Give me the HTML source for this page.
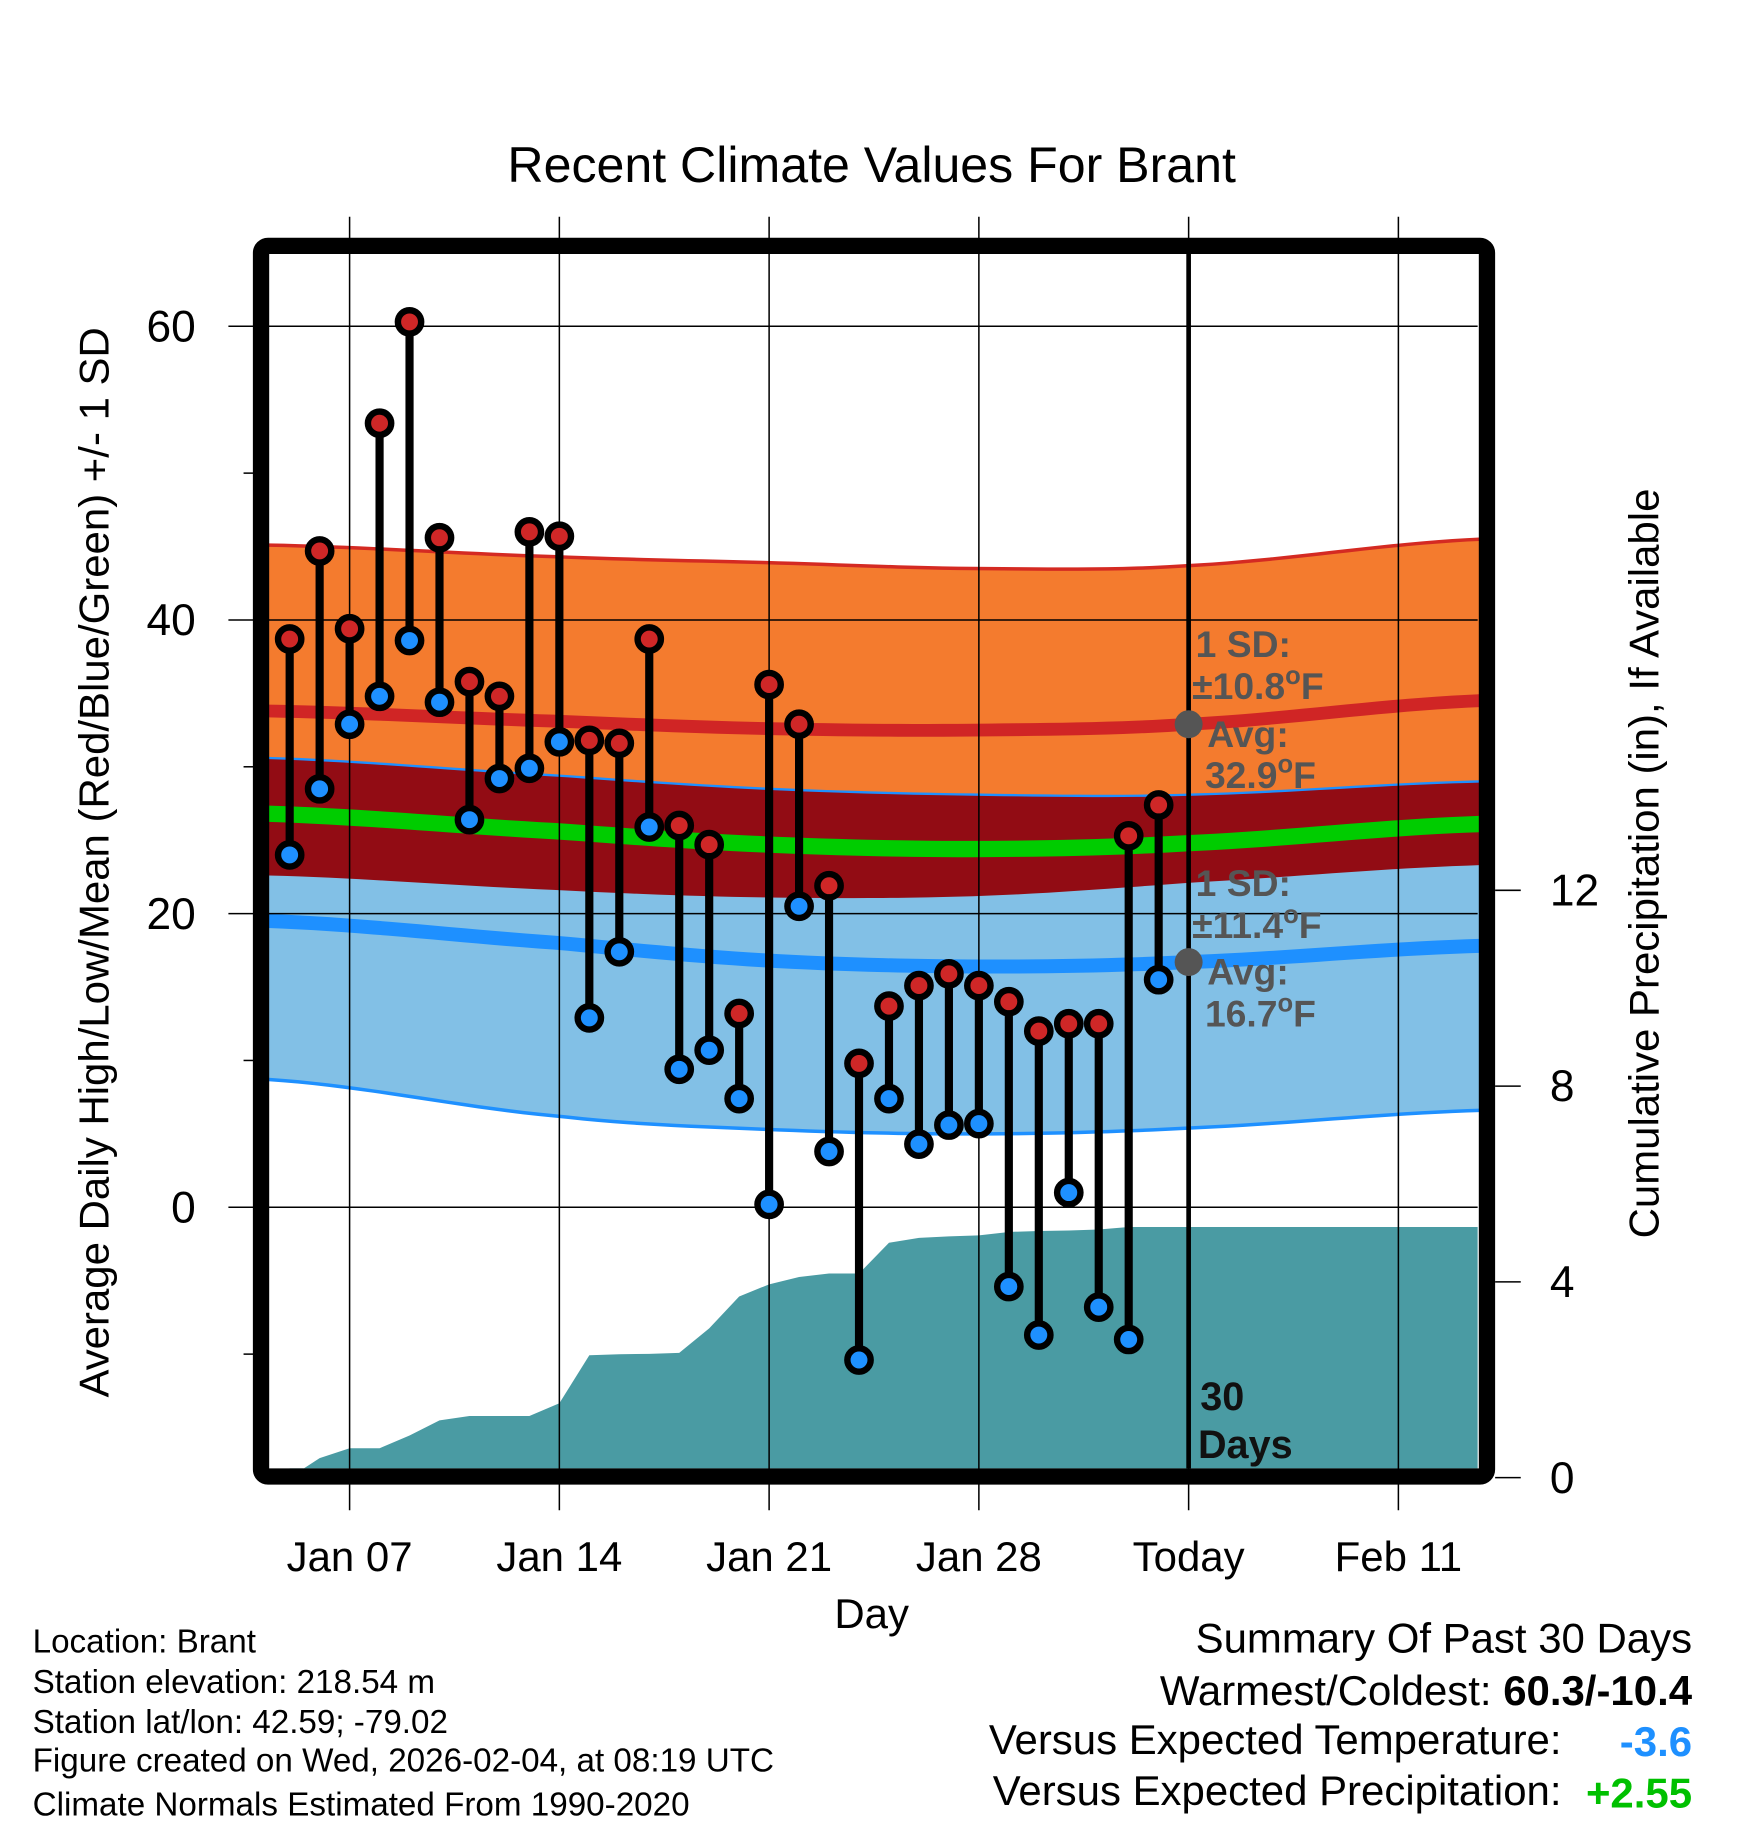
<!DOCTYPE html>
<html><head><meta charset="utf-8"><style>
html,body{margin:0;padding:0;background:#fff;}
svg{display:block;font-family:"Liberation Sans",sans-serif;}
</style></head><body>
<svg id="chart" width="1748" height="1828" viewBox="0 0 1500 1568.65" xmlns="http://www.w3.org/2000/svg">
<g id="bg"></g>
</svg>
<script>
const dayLabels=["Jan 07","Jan 14","Jan 21","Jan 28","Today","Feb 11"];
const dayTicks=[0,7,14,21,28,35];
const tempTicks=[60,40,20,0];
const tempMinor=[50,30,10,-10];
const precipTicks=[0,4,8,12];
const highs=[38.7,44.7,39.4,53.4,60.3,45.6,35.8,34.8,46.0,45.7,31.8,31.6,38.7,26.0,24.7,13.2,35.6,32.9,21.9,9.8,13.7,15.1,15.9,15.1,14.0,12.0,12.5,12.5,25.3,27.4];
const lows=[24.0,28.5,32.9,34.8,38.6,34.4,26.4,29.2,29.9,31.7,12.9,17.4,25.9,9.4,10.7,7.4,0.2,20.5,3.8,-10.4,7.4,4.3,5.6,5.7,-5.4,-8.7,1.0,-6.8,-9.0,15.5];
const precip=[0,0.4,0.6,0.6,0.86,1.17,1.26,1.26,1.26,1.52,2.5,2.52,2.53,2.55,3.05,3.7,3.95,4.1,4.17,4.17,4.8,4.9,4.93,4.95,5.02,5.04,5.05,5.07,5.12,5.12];
const normDays=[-2.7,7,14,21,28,37.7];
const highUpper=[45.1,44.3,43.9,43.5,43.7,45.5];
const highAvg=[33.8,33.1,32.6,32.5,32.9,34.5];
const highLower=[22.6,21.6,21.1,21.2,22.1,23.3];
const lowUpper=[30.6,29.4,28.5,28.1,28.1,29.0];
const lowAvg=[19.5,18.0,16.8,16.4,16.7,17.8];
const lowLower=[8.7,6.2,5.3,5.0,5.4,6.6];
const meanAvg=[26.8,25.6,24.7,24.4,24.8,26.1];
const firstDay=-2; // Jan 05
const todayDay=28;

const X0=231,X1=1268,Y0=218,Y1=1260;
const x=d=>300+d*25.714;
const y=t=>1036-t*12.6;
const yp=p=>1268-p*42;
const NS="http://www.w3.org/2000/svg";
const svg=document.getElementById('chart');
function mk(tag,attrs,parent){const e=document.createElementNS(NS,tag);for(const k in attrs)e.setAttribute(k,attrs[k]);(parent||svg).appendChild(e);return e;}
function txt(s,attrs,parent){const e=mk('text',attrs,parent);e.textContent=s;return e;}

function interp(arr,d){for(let i=0;i<normDays.length-1;i++){if(d<=normDays[i+1]+1e-9){const a=normDays[i],b=normDays[i+1];let f=(d-a)/(b-a);const p0=arr[Math.max(i-1,0)],p1=arr[i],p2=arr[i+1],p3=arr[Math.min(i+2,arr.length-1)];const f2=f*f,f3=f2*f;return 0.5*((2*p1)+(-p0+p2)*f+(2*p0-5*p1+4*p2-p3)*f2+(-p0+3*p1-3*p2+p3)*f3);}}return arr[arr.length-1];}
function curve(arr){const pts=[];const d0=normDays[0],d1=normDays[normDays.length-1];for(let d=d0;d<d1;d+=0.5)pts.push([x(d),y(interp(arr,d))]);pts.push([x(d1),y(interp(arr,d1))]);return pts;}
function band(up,lo,fill,name){const a=curve(up),b=curve(lo).reverse();const p=mk('path',{d:'M'+a.concat(b).map(q=>q.join(',')).join('L')+'Z',fill:fill});

}
function line(arr,col,w,name){const p=mk('polyline',{points:curve(arr).map(q=>q.join(',')).join(' '),fill:'none',stroke:col,'stroke-width':w});

}

band(highUpper,highLower,'#f47b2e','high-sd-band');
band(lowUpper,lowLower,'#82c0e6','low-sd-band');
band(lowUpper,highLower,'#920c14','overlap-band');
line(highUpper,'#d42a22',3,'high-upper-line');
line(lowUpper,'#1e90ff',2,'low-upper-line');
line(lowLower,'#1e90ff',3,'low-lower-line');
line(highAvg,'#d02525',11,'high-avg-line');
line(meanAvg,'#00cc00',14,'mean-avg-line');
line(lowAvg,'#1e90ff',12,'low-avg-line');

{let pts=[[x(firstDay),yp(0)]];precip.forEach((v,i)=>pts.push([x(firstDay+i),yp(v)]));pts.push([X1,yp(precip[precip.length-1])],[X1,Y1],[x(firstDay),Y1]);
const p=mk('path',{d:'M'+pts.map(q=>q.join(',')).join('L')+'Z',fill:'#4a9ba3'});

}

dayTicks.forEach((d,i)=>{const l=mk('line',{x1:x(d),x2:x(d),y1:186,y2:1296,stroke:'#000','stroke-width':1.3});


const t=txt(dayLabels[i],{x:x(d),y:1348,'text-anchor':'middle','font-size':36});

});
tempTicks.forEach(v=>{const l=mk('line',{x1:196,x2:X1,y1:y(v),y2:y(v),stroke:'#000','stroke-width':1.3});


const t=txt(String(v),{x:168,y:y(v)+13,'text-anchor':'end','font-size':38});

});
tempMinor.forEach(v=>{const l=mk('line',{x1:209,x2:220,y1:y(v),y2:y(v),stroke:'#000','stroke-width':1.3});

});
precipTicks.forEach(v=>{const l=mk('line',{x1:1283,x2:1305,y1:yp(v),y2:yp(v),stroke:'#000','stroke-width':1.3});


const t=txt(String(v),{x:1330,y:yp(v)+13,'font-size':38});

});

{const l=mk('line',{x1:x(todayDay),x2:x(todayDay),y1:Y0,y2:Y1,stroke:'#000','stroke-width':4});

}

highs.forEach((h,i)=>{const d=firstDay+i;const s=mk('line',{x1:x(d),x2:x(d),y1:y(h),y2:y(lows[i]),stroke:'#000','stroke-width':7});

});
highs.forEach((h,i)=>{const d=firstDay+i;
const c1=mk('circle',{cx:x(d),cy:y(h),r:10,fill:'#cf2727',stroke:'#000','stroke-width':5.5});


const c2=mk('circle',{cx:x(d),cy:y(lows[i]),r:10,fill:'#1e90ff',stroke:'#000','stroke-width':5.5});

});

[[interp(highAvg,todayDay),'high-avg-dot'],[interp(lowAvg,todayDay),'low-avg-dot']].forEach(a=>{const c=mk('circle',{cx:x(todayDay),cy:y(a[0]),r:12,fill:'#555'});

});
</script>
<script>
(function(){
const svg=document.getElementById('chart');const NS="http://www.w3.org/2000/svg";
const html=`
<rect x="224" y="211" width="1052" height="1056" rx="6" fill="none" stroke="#000" stroke-width="14"/>
<g font-weight="bold" fill="#555" font-size="32">
<text x="1026" y="564">1 SD:</text>
<text x="1023" y="600">±10.8<tspan dy="-13" font-size="22">o</tspan><tspan dy="13">F</tspan></text>
<text x="1036" y="641">Avg:</text>
<text x="1034" y="676">32.9<tspan dy="-13" font-size="22">o</tspan><tspan dy="13">F</tspan></text>
<text x="1026" y="769">1 SD:</text>
<text x="1023" y="805">±11.4<tspan dy="-13" font-size="22">o</tspan><tspan dy="13">F</tspan></text>
<text x="1036" y="845">Avg:</text>
<text x="1034" y="881">16.7<tspan dy="-13" font-size="22">o</tspan><tspan dy="13">F</tspan></text>
</g>
<g font-weight="bold" fill="#111" font-size="34">
<text x="1030" y="1210">30</text><text x="1028" y="1251">Days</text></g>
<text x="748" y="156" text-anchor="middle" font-size="43">Recent Climate Values For Brant</text>
<text transform="translate(93,740) rotate(-90)" text-anchor="middle" font-size="36">Average Daily High/Low/Mean (Red/Blue/Green) +/- 1 SD</text>
<text transform="translate(1423,741) rotate(-90)" text-anchor="middle" font-size="36">Cumulative Precipitation (in), If Available</text>
<text x="748" y="1397" text-anchor="middle" font-size="36">Day</text>
<g font-size="28.5">
<text x="28" y="1418">Location: Brant</text>
<text x="28" y="1453">Station elevation: 218.54 m</text>
<text x="28" y="1487">Station lat/lon: 42.59; -79.02</text>
<text x="28" y="1520">Figure created on Wed, 2026-02-04, at 08:19 UTC</text>
<text x="28" y="1558">Climate Normals Estimated From 1990-2020</text>
</g>
<g font-size="36" text-anchor="end">
<text x="1452" y="1418">Summary Of Past 30 Days</text>
<text x="1452" y="1463">Warmest/Coldest: <tspan font-weight="bold">60.3/-10.4</tspan></text>
<text x="1340" y="1505">Versus Expected Temperature:</text>
<text x="1452" y="1507" font-weight="bold" fill="#1e90ff">-3.6</text>
<text x="1340" y="1549">Versus Expected Precipitation:</text>
<text x="1452" y="1551" font-weight="bold" fill="#00c000">+2.55</text>
</g>`;
const g=document.createElementNS(NS,'g');g.innerHTML=html;


svg.appendChild(g);
})();
</script>
</body></html>
